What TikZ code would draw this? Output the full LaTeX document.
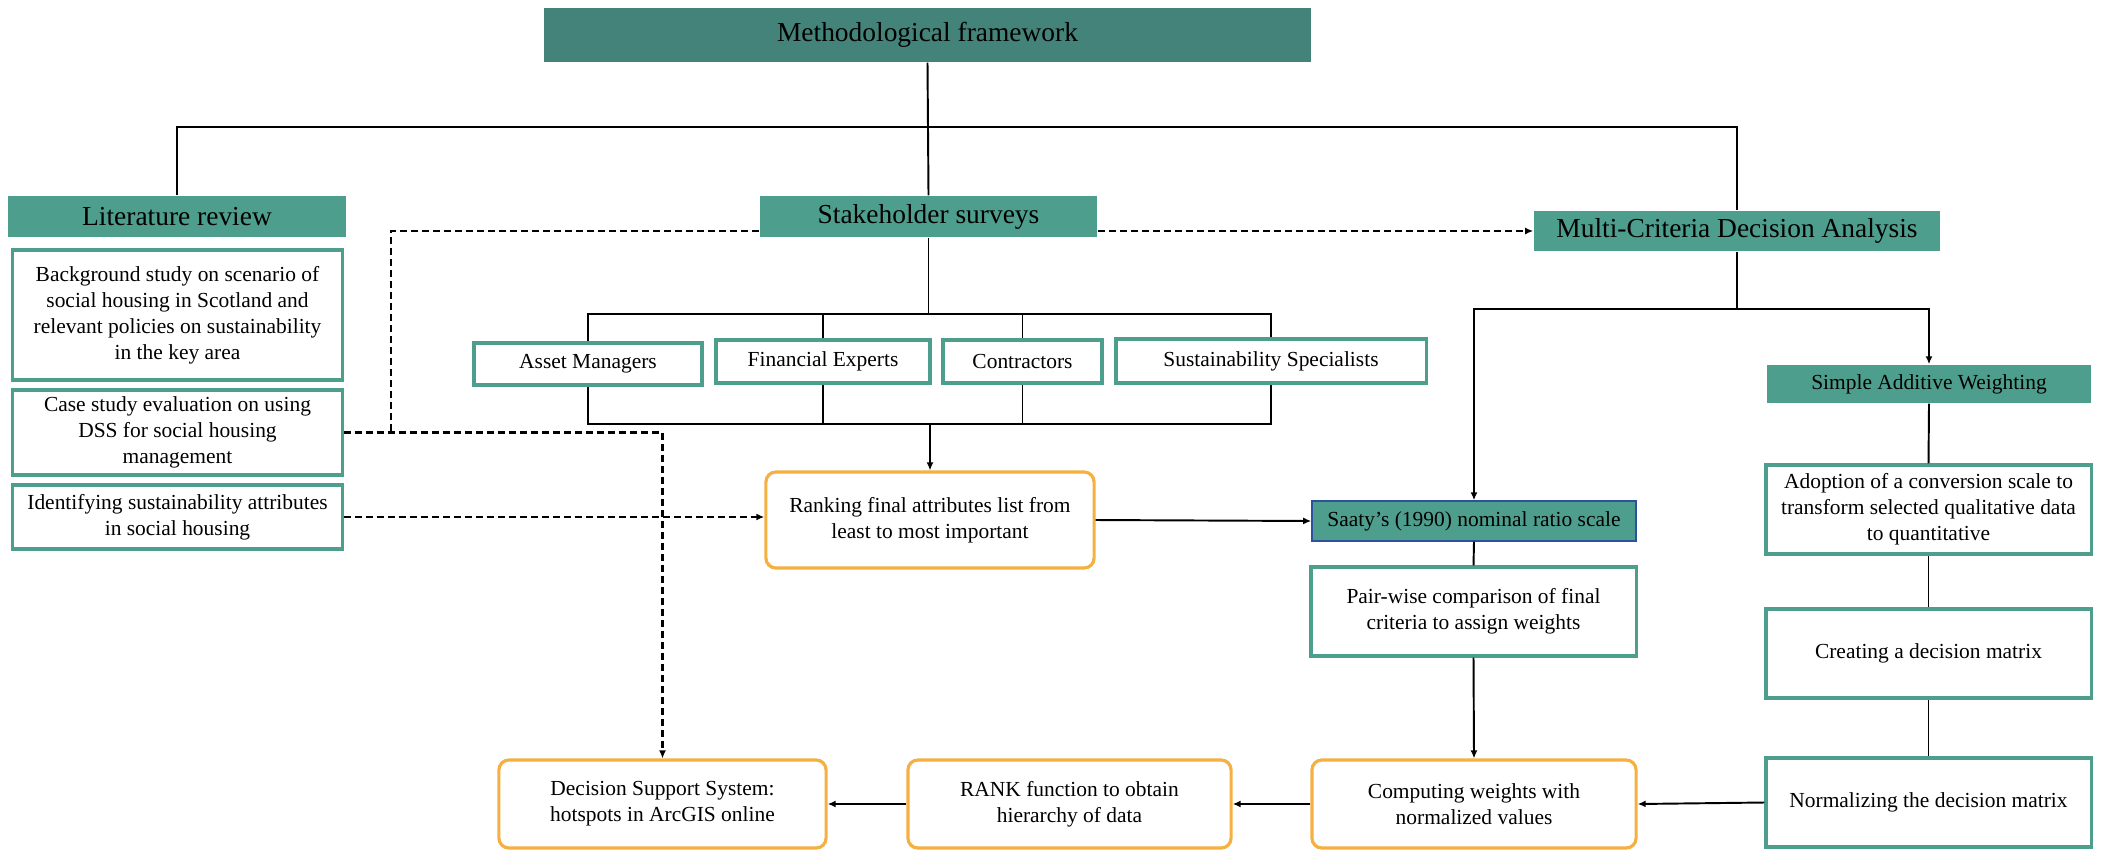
\documentclass[tikz,border=0pt]{standalone}
\usepackage{fontspec}
\setmainfont{Liberation Serif}
\usetikzlibrary{arrows.meta}
\definecolor{headdark}{HTML}{44837A}
\definecolor{headteal}{HTML}{4E9E8D}
\definecolor{boxorange}{HTML}{F5B041}
\definecolor{saatyblue}{HTML}{2F4F9F}
\newcommand{\smalltxt}{\fontsize{6.1pt}{7.4pt}\selectfont}
\newcommand{\bigtxt}{\fontsize{7.8pt}{9.4pt}\selectfont}
\tikzset{
  head/.style={fill=headteal, inner sep=0pt, font=\bigtxt},
  stepbox/.style={draw=headteal, line width=0.9pt, fill=white, align=center, inner sep=0pt, font=\smalltxt},
  outbox/.style={draw=boxorange, line width=0.9pt, rounded corners=1mm, fill=white, align=center, inner sep=0pt, font=\smalltxt},
  link/.style={line width=0.55pt},
  arr/.style={link, -{Latex[length=0.8mm,width=0.7mm]}},
  dashlink/.style={line width=0.6pt, dash pattern=on 0.7mm off 0.4mm},
}

\begin{document}
\begin{tikzpicture}[x=0.01cm,y=-0.01cm]
    \useasboundingbox (0,0) rectangle (2112,851);

    % headers
    \node[head, fill=headdark, minimum width=7.67cm, minimum height=0.54cm] (frame) at (927.5,35) {Methodological framework};
    \node[head, minimum width=3.38cm, minimum height=0.41cm] (lit) at (177,216.5) {Literature review};
    \node[head, minimum width=3.37cm, minimum height=0.41cm] (stake) at (928.5,216.5) {Stakeholder surveys};
    \node[head, minimum width=4.06cm, minimum height=0.40cm] (mcda) at (1737,231) {Multi-Criteria Decision Analysis};
    \node[head, font=\smalltxt, minimum width=3.24cm, minimum height=0.38cm] (saw) at (1929,384) {Simple Additive Weighting};
    \node[head, font=\smalltxt, draw=saatyblue, line width=0.4pt, minimum width=3.24cm, minimum height=0.40cm] (saaty) at (1474,521) {Saaty’s (1990) nominal ratio scale};

    % literature review
    \node[stepbox, minimum width=3.29cm, minimum height=1.30cm] (bg) at (177.5,315) {Background study on scenario of\\social housing in Scotland and\\relevant policies on sustainability\\in the key area};
    \node[stepbox, minimum width=3.29cm, minimum height=0.85cm] (case) at (177.5,432.5) {Case study evaluation on using\\DSS for social housing\\management};
    \node[stepbox, minimum width=3.29cm, minimum height=0.64cm] (ident) at (177.5,517) {Identifying sustainability attributes\\in social housing};

    % stakeholders
    \node[stepbox, minimum width=2.28cm, minimum height=0.42cm] (asset) at (588,364) {Asset Managers};
    \node[stepbox, minimum width=2.14cm, minimum height=0.43cm] (fin) at (823,361.5) {Financial Experts};
    \node[stepbox, minimum width=1.59cm, minimum height=0.43cm] (contr) at (1022.5,361.5) {Contractors};
    \node[stepbox, minimum width=3.10cm, minimum height=0.44cm] (sust) at (1271,361) {Sustainability Specialists};

    % analysis steps
    \node[outbox, minimum width=3.28cm, minimum height=0.96cm] (rank) at (930,520) {Ranking final attributes list from\\least to most important};
    \node[stepbox, minimum width=3.25cm, minimum height=0.89cm] (pair) at (1473.5,611.5) {Pair-wise comparison of final\\criteria to assign weights};
    \node[stepbox, minimum width=3.25cm, minimum height=0.89cm] (adopt) at (1928.5,509.5) {Adoption of a conversion scale to\\transform selected qualitative data\\to quantitative};
    \node[stepbox, minimum width=3.25cm, minimum height=0.89cm] (create) at (1928.5,653.5) {Creating a decision matrix};
    \node[stepbox, minimum width=3.25cm, minimum height=0.89cm] (norm) at (1928.5,802.5) {Normalizing the decision matrix};
    \node[outbox, minimum width=3.24cm, minimum height=0.88cm] (comp) at (1474,804) {Computing weights with\\normalized values};
    \node[outbox, minimum width=3.23cm, minimum height=0.88cm] (rankf) at (1069.5,804) {RANK function to obtain\\hierarchy of data};
    \node[outbox, minimum width=3.27cm, minimum height=0.88cm] (dss) at (662.5,804) {Decision Support System:\\hotspots in ArcGIS online};

    % tree lines
    \draw[link] (frame.south) -- (stake.north);
    \draw[link] (lit.north) -- ++(0,-68) -| (mcda.north);
    \draw[link] (stake.south) -- ++(0,76) coordinate (top);
    \draw[link] (asset.north) |- (top) -| (sust.north);
    \draw[link] (fin.north) -- (fin.north |- top);
    \draw[link] (contr.north) -- (contr.north |- top);
    \draw[link] (asset.south) -- ++(0,37) coordinate (bot) -| (sust.south);
    \draw[link] (fin.south) -- (fin.south |- bot);
    \draw[link] (contr.south) -- (contr.south |- bot);
    \draw[arr] (rank.north |- bot) -- (rank.north);

    \draw[link] (mcda.south) -- ++(0,57) coordinate (split);
    \draw[arr] (split) -| (saaty.north);
    \draw[arr] (split) -| (saw.north);
    \draw[arr] (rank.east) -- (saaty.west);
    \draw[link] (saaty.south) -- (pair.north);
    \draw[arr] (pair.south) -- (comp.north);
    \draw[link] (saw.south) -- (adopt.north);
    \draw[link] (adopt.south) -- (create.north);
    \draw[link] (create.south) -- (norm.north);
    \draw[arr] (norm.west) -- (comp.east);
    \draw[arr] (comp.west) -- (rankf.east);
    \draw[arr] (rankf.west) -- (dss.east);

    % dashed links
    \coordinate (join) at (391,432.5);
    \draw[dashlink, -{Latex[length=0.8mm,width=0.7mm]}] (stake.east |- mcda.west) -- (mcda.west);
    \draw[dashlink] (stake.west |- mcda.west) -| (join);
    \draw[dashlink, -{Latex[length=0.8mm,width=0.7mm]}] (case.east) -| (dss.north);
    \draw[dashlink, -{Latex[length=0.8mm,width=0.7mm]}] (ident.east) -- (ident.east -| rank.west);
\end{tikzpicture}
\end{document}
